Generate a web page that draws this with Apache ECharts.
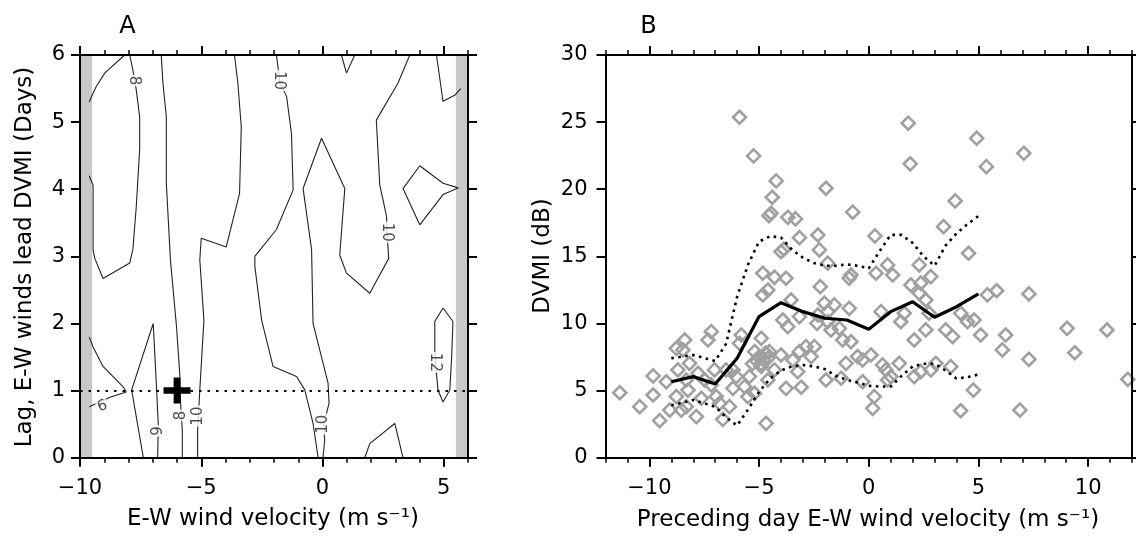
<!DOCTYPE html>
<html><head><meta charset="utf-8">
<script src="https://cdn.jsdelivr.net/npm/echarts@6/dist/echarts.min.js"></script>
<style>html,body{margin:0;padding:0;background:#fff}#c{width:1136px;height:536px}</style>
</head><body><div id="c"></div>
<script>
// ---------- Panel A : contour lines (wind velocity, lag days) ----------
const contourA1 = [[-9.62,5.3],[-9.46,5.43],[-9.33,5.53],[-8.98,5.73],[-8.16,6.0]];
const contourA2 = [[-9.62,4.2],[-9.46,4.06],[-9.46,3.09],[-9.39,2.97],[-9.05,2.67],[-7.95,2.90],[-7.82,3.10],[-7.68,3.74],[-7.54,4.59],[-7.54,5.08],[-7.68,5.48],[-7.82,5.78],[-7.95,6.0]];
const contourA3 = [[-6.65,6.0],[-6.58,5.58],[-6.44,5.08],[-6.44,4.09],[-6.27,2.94],[-6.02,1.95],[-5.88,1.21],[-5.85,0.8],[-5.78,0.4],[-5.78,0]];
const contourA4 = [[-3.63,6.0],[-3.49,5.58],[-3.35,4.93],[-3.42,3.94],[-3.97,3.14],[-5.0,3.27],[-5.06,2.95],[-4.89,2.05],[-5.06,1.01],[-5.12,0.6],[-5.15,0.41],[-5.15,0]];
const contourA5 = [[-1.90,6.0],[-1.76,5.6],[-1.48,5.38],[-1.28,4.83],[-1.21,3.99],[-1.90,3.40],[-2.79,3.0],[-2.79,2.85],[-2.51,2.05],[-2.04,1.36],[-1.07,1.21],[-0.73,1.01],[-0.39,0.51],[-0.18,0]];
const contourA6 = [[3.60,6.0],[3.11,5.58],[2.22,5.03],[2.36,4.07],[2.64,3.60],[2.66,3.36],[2.73,2.97],[1.95,2.45],[0.99,2.75],[0.71,3.02],[0.92,4.01],[-0.04,4.76],[-0.80,4.01],[-0.45,3.10],[-0.39,2.0],[0.23,1.11],[0.27,0.81],[0.05,0.5],[0.09,0.26],[0.02,0]];
const contourA7 = [[0.78,6.0],[0.99,5.73],[1.33,6.0]];
const contourA8 = [[4.70,6.0],[4.97,5.31],[5.45,5.40],[5.7,5.5]];
const contourA9 = [[4.01,4.35],[4.97,4.09],[5.6,4.02],[4.97,3.92],[4.01,3.47],[3.32,4.01],[4.01,4.35]];
const contourA10 = [[4.97,2.23],[5.38,2.03],[5.32,1.46],[5.25,1.01],[4.97,0.83],[4.76,1.01],[4.70,1.25],[4.63,1.6],[4.63,2.03],[4.97,2.23]];
const contourA11 = [[1.74,0],[1.95,0.21],[2.98,0.51],[3.32,0]];
const contourA12 = [[-9.62,1.8],[-9.46,1.65],[-9.05,1.36],[-8.23,1.06],[-8.09,0.98],[-8.76,0.9],[-9.62,0.76]];
const contourA13 = [[-7.39,0],[-7.87,1.01],[-6.98,2.0],[-6.84,1.01],[-6.77,0.47],[-6.80,0]];
const contoursA = [contourA1,contourA2,contourA3,contourA4,contourA5,contourA6,contourA7,contourA8,contourA9,contourA10,contourA11,contourA12,contourA13];

// contour labels
const labelTextA = ['8','10','10','10','12','8','10','9','9'];
const labelXA    = [-7.78,-1.78,2.65,0.03,4.63,-5.84,-5.14,-6.77,-9.12];
const labelYA    = [5.62,5.62,3.36,0.5,1.42,0.63,0.62,0.40,0.81];
const labelRotA  = [-90,-90,-90,90,-90,90,90,90,-160];

const lagLine = 1;            // dotted horizontal reference (lag = 1 day)
const crossPoint = [[-6, 1]]; // maximum marker
const bandRanges = [[-10,-9.5],[5.5,6]];

// ---------- Panel B : scatter of DVMI vs preceding day wind ----------
const scatterX = [-5.89,-5.25,-4.22,-4.40,-4.55,-4.45,-3.69,-3.34,-1.95,-3.16,-2.32,-2.25,-4.00,-3.87,-4.83,-4.30,-3.77,
 1.80,4.92,7.07,1.89,5.36,-0.73,3.94,3.41,0.28,4.55,-1.87,0.86,2.30,-0.81,0.33,1.09,2.83,
 -11.35,-10.44,-9.83,-9.83,-9.53,-9.23,-9.07,-8.77,-8.39,-8.47,-8.17,-8.70,-8.77,-8.54,-8.32,-8.24,-7.86,-7.78,-7.63,-7.33,-7.18,-7.48,-7.18,-6.95,-6.80,-6.65,-6.35,-6.19,-6.50,
 -5.81,-5.89,-6.04,-5.66,-5.44,-5.51,-5.2,-5.0,-4.8,-4.6,-4.9,-5.1,-4.7,-5.3,-4.90,-4.53,-4.30,-4.60,-5.21,-4.68,-4.83,-4.60,
 -3.54,-3.92,-3.69,-3.16,-4.00,-3.46,-3.16,-2.86,-2.48,-2.63,-3.24,-3.77,-3.08,-2.21,-2.02,-2.32,-2.36,-1.87,-1.95,
 -4.9,-6.19,-7.03,-8.32,
 -0.89,1.92,2.37,2.30,2.60,-1.57,-0.89,0.56,1.62,-1.87,-1.72,-1.34,-1.19,-0.81,1.46,2.07,2.60,2.75,3.51,3.82,4.19,4.50,4.80,5.10,5.41,5.83,6.24,6.09,7.30,7.30,4.77,4.19,6.89,
 -1.04,-0.51,-0.28,0.10,-1.26,-0.28,0.25,0.18,0.63,0.78,1.01,0.86,1.39,2.07,2.37,2.83,3.06,3.74,
 9.04,9.39,10.86,11.81];
const scatterY = [25.36,22.48,20.62,19.40,18.03,18.21,17.91,17.79,20.07,16.39,16.59,15.48,15.35,15.53,13.74,13.44,13.37,
 24.92,23.80,22.68,21.89,21.68,18.29,19.13,17.21,16.52,15.23,14.49,14.36,14.36,13.61,13.74,13.61,13.49,
 4.84,3.80,6.09,4.67,2.76,5.66,3.55,8.15,8.77,8.03,7.03,6.54,4.55,3.55,3.80,5.04,3.06,6.29,4.43,8.77,9.39,5.79,5.42,4.55,4.05,2.86,3.80,5.17,6.54,
 9.14,8.52,6.04,5.29,6.04,4.55,7.9,7.5,7.3,7.4,7.0,7.2,7.8,7.0,8.90,7.90,6.54,5.79,4.80,2.56,12.12,12.49,
 11.75,10.26,9.76,10.51,7.65,7.28,7.90,8.27,8.27,7.53,6.41,5.17,5.25,12.74,11.51,10.63,10.01,10.88,5.79,
 6.8,6.54,6.54,5.79,
 13.37,12.87,13.0,12.25,11.75,11.38,11.13,10.88,10.76,10.13,9.52,9.64,8.77,8.64,10.13,8.77,9.52,10.76,9.52,9.02,10.76,10.13,10.26,9.14,12.13,12.44,9.14,8.03,12.20,7.33,5.04,3.50,3.55,
 7.03,7.53,7.28,7.65,5.92,5.66,4.55,3.68,6.91,6.54,6.04,5.79,7.03,6.04,6.41,6.54,7.03,6.78,
 9.64,7.82,9.51,5.84];

const meanX = [-9,-8,-7,-6,-5,-4,-3,-2,-1,0,1,2,3,4,5];
const meanY = [5.66,6.04,5.49,7.41,10.51,11.55,10.88,10.39,10.26,9.57,10.88,11.62,10.46,11.25,12.20];
const envX  = [-9,-8,-7,-6.5,-6,-5.5,-5,-4.5,-4,-3.5,-3,-2.5,-2,-1.5,-1,-0.5,0,0.5,1,1.5,2,2.5,3,3.5,4,4.5,5];
const upperY = [7.41,7.65,7.2,8.5,12.0,14.4,16.1,16.5,16.4,15.5,14.9,14.5,14.3,14.3,14.4,14.3,14.1,15.4,16.6,16.6,16.0,15.0,14.3,15.8,16.7,17.4,18.0];
const lowerY = [3.9,4.3,3.8,3.0,2.4,3.6,4.9,5.9,6.5,6.8,6.9,6.8,6.6,6.1,5.8,5.6,5.35,5.3,5.3,6.1,6.8,7.0,7.0,6.5,5.9,6.0,6.2];

// ---------- tick values ----------
const aMajorX = [-10,-5,0,5];
const aMinorX = [-10,-9,-8,-7,-6,-5,-4,-3,-2,-1,0,1,2,3,4,5,6];
const bMajorX = [-10,-5,0,5,10];
const bMinorX = [-12,-11,-10,-9,-8,-7,-6,-5,-4,-3,-2,-1,0,1,2,3,4,5,6,7,8,9,10,11,12];

const FONT = 'DejaVu Sans';
const fmt = v => String(v).replace('-', '\u2212');
const zip = (a, b) => a.map((v, i) => [v, b[i]]);

function xAxes(g, min, max, majors, minors) {
  const base = {type:'value', gridIndex:g, min:min, max:max, splitLine:{show:false}, z:20};
  const line = {show:true, onZero:false, lineStyle:{color:'#000', width:2}};
  return [
    Object.assign({}, base, {position:'bottom', axisLine:line,
      axisTick:{show:true, customValues:majors, length:9, lineStyle:{color:'#000', width:2}},
      axisLabel:{show:true, customValues:majors, margin:20, formatter:fmt, fontFamily:FONT, fontSize:21, color:'#000'}}),
    Object.assign({}, base, {position:'bottom', axisLine:{show:false, onZero:false},
      axisTick:{show:true, customValues:minors, length:5, lineStyle:{color:'#000', width:1.5}}, axisLabel:{show:false}}),
    Object.assign({}, base, {position:'top', axisLine:line,
      axisTick:{show:true, customValues:majors, length:9, lineStyle:{color:'#000', width:2}}, axisLabel:{show:false}}),
    Object.assign({}, base, {position:'top', axisLine:{show:false, onZero:false},
      axisTick:{show:true, customValues:minors, length:5, lineStyle:{color:'#000', width:1.5}}, axisLabel:{show:false}})
  ];
}
function yAxes(g, max, interval, margin) {
  const base = {type:'value', gridIndex:g, min:0, max:max, interval:interval, splitLine:{show:false}, z:20,
    axisLine:{show:true, onZero:false, lineStyle:{color:'#000', width:2}},
    axisTick:{show:true, length:9, lineStyle:{color:'#000', width:2}}};
  return [
    Object.assign({}, base, {position:'left', axisLabel:{show:true, margin:margin, formatter:fmt, fontFamily:FONT, fontSize:21, color:'#000'}}),
    Object.assign({}, base, {position:'right', axisLabel:{show:false}})
  ];
}

const series = [];
contoursA.forEach(c => series.push({type:'line', xAxisIndex:0, yAxisIndex:0, data:c, showSymbol:false, symbol:'none',
  lineStyle:{color:'#222', width:1.1}, z:2, silent:true, animation:false}));
series.push({type:'scatter', xAxisIndex:0, yAxisIndex:0, z:3, symbolSize:1, itemStyle:{color:'rgba(0,0,0,0)'}, silent:true, animation:false,
  data: labelTextA.map((t,i)=>({name:t, value:[labelXA[i], labelYA[i]], label:{rotate:labelRotA[i]}})),
  label:{show:true, position:'inside', formatter:'{b}', fontFamily:FONT, fontSize:15, color:'#222', backgroundColor:'#fff', padding:[0,1]},
  markLine:{silent:true, symbol:'none', label:{show:false}, animation:false,
    lineStyle:{color:'#000', type:[2.5,6], width:2.2}, data:[{yAxis:lagLine}]}});
series.push({type:'scatter', xAxisIndex:0, yAxisIndex:0, z:10, data:crossPoint, silent:true, animation:false,
  symbol:'path://M3,0H5V3H8V5H5V8H3V5H0V3H3Z', symbolSize:[27,26], itemStyle:{color:'#000', opacity:1},
  markArea:{silent:true, itemStyle:{color:'#c8c8c8', opacity:1}, data: bandRanges.map(r=>[{xAxis:r[0]},{xAxis:r[1]}])}});

// Panel B
series.push({type:'scatter', xAxisIndex:4, yAxisIndex:2, z:2, data:zip(scatterX, scatterY), symbol:'diamond', symbolSize:13,
  itemStyle:{color:'rgba(0,0,0,0)', borderColor:'#a0a0a0', borderWidth:2.6, opacity:1}, silent:true, animation:false});
series.push({type:'line', xAxisIndex:4, yAxisIndex:2, z:5, data:zip(meanX, meanY), symbol:'none', lineStyle:{color:'#000', width:3.2}, silent:true, animation:false});
series.push({type:'line', xAxisIndex:4, yAxisIndex:2, z:5, data:zip(envX, upperY), symbol:'none', lineStyle:{color:'#000', width:2.6, type:[2.6,4.4]}, silent:true, animation:false});
series.push({type:'line', xAxisIndex:4, yAxisIndex:2, z:5, data:zip(envX, lowerY), symbol:'none', lineStyle:{color:'#000', width:2.6, type:[2.6,4.4]}, silent:true, animation:false});

const tstyle = (t, size) => ({text:t, fontFamily:FONT, fontSize:size, fill:'#000', align:'center', verticalAlign:'middle'});

const option = {
  animation:false,
  backgroundColor:'#fff',
  grid:[{left:80, top:55, width:388, height:402.7}, {left:605.5, top:55, width:526.5, height:402.7}],
  xAxis: xAxes(0, -10, 6, aMajorX, aMinorX).concat(xAxes(1, -12, 12, bMajorX, bMinorX)),
  yAxis: yAxes(0, 6, 1, 15).concat(yAxes(1, 30, 5, 18)),
  series: series,
  graphic:[
    {type:'text', x:127.5, y:27, style:tstyle('A', 24)},
    {type:'text', x:648.5, y:27, style:tstyle('B', 24)},
    {type:'text', x:273, y:519, style:tstyle('E-W wind velocity (m s\u207B\u00B9)', 23)},
    {type:'text', x:868, y:520, style:tstyle('Preceding day E-W wind velocity (m s\u207B\u00B9)', 23)},
    {type:'text', x:25, y:257, rotation:Math.PI/2, style:tstyle('Lag, E-W winds lead DVMI (Days)', 23)},
    {type:'text', x:543, y:256, rotation:Math.PI/2, style:tstyle('DVMI (dB)', 23)}
  ]
};
echarts.init(document.getElementById('c'), null, {renderer:'canvas'}).setOption(option);
</script></body></html>
